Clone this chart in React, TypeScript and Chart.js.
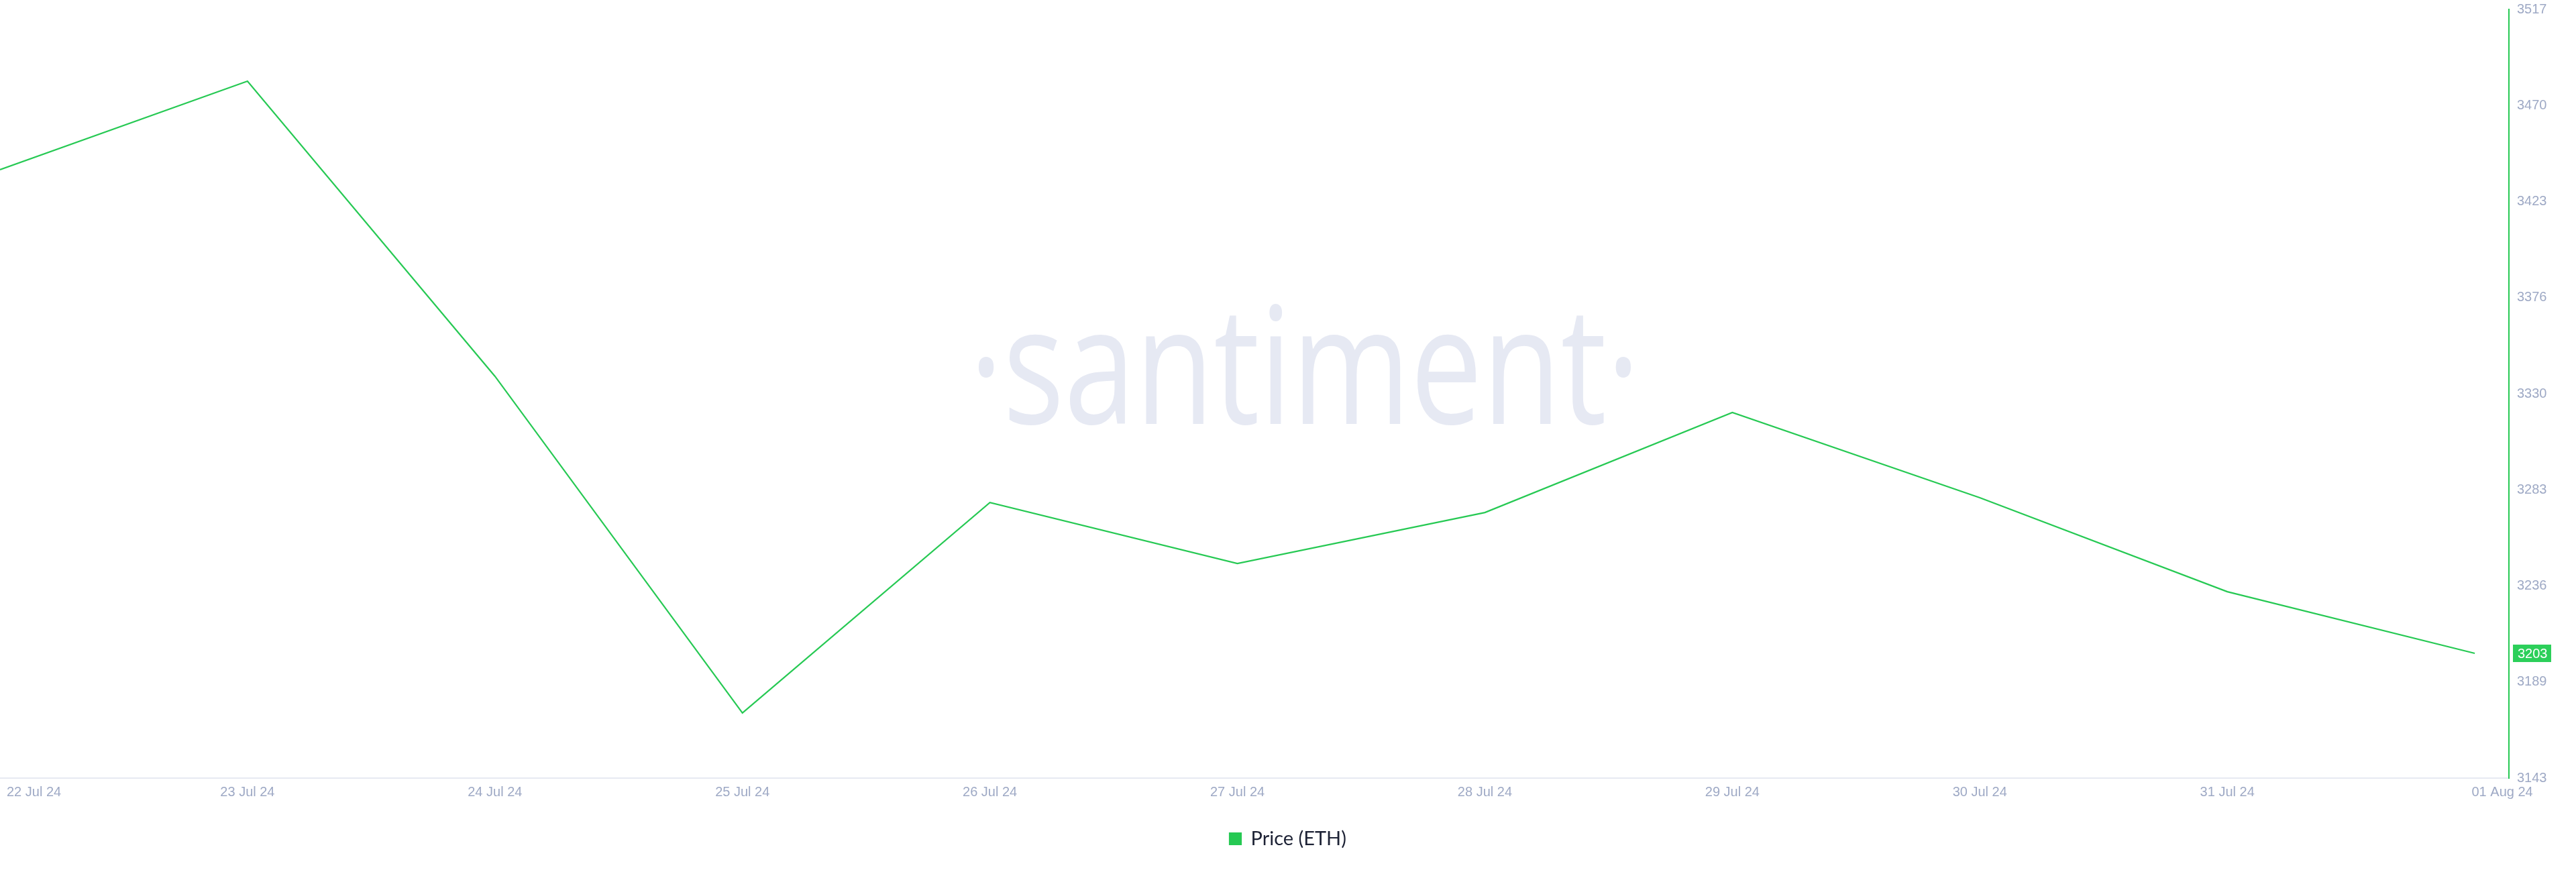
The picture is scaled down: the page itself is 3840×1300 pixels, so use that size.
import React, { useEffect, useRef } from "react";
import { Chart, registerables } from "chart.js";

Chart.register(...registerables);

const dateLabels = [
  "22 Jul 24", "23 Jul 24", "24 Jul 24", "25 Jul 24", "26 Jul 24", "27 Jul 24",
  "28 Jul 24", "29 Jul 24", "30 Jul 24", "31 Jul 24", "01 Aug 24",
];
const priceETH = [
  3438.6, 3481.7, 3338.1, 3174.3, 3276.7, 3247.0, 3271.8, 3320.5, 3279.0, 3233.3, 3203.3,
];
const seriesName = "Price (ETH)";
const yMin = 3142.6;
const yMax = 3516.6;
const yTickCount = 9;
const xMaxIndex = 10.138;

const GREEN = "#26c953";
const TICK_COLOR = "#9ea9c5";
const TICK_FONT = '"Liberation Sans", Arial, sans-serif';

const watermarkPlugin = {
  id: "watermark",
  beforeDatasetsDraw(chart: any) {
    const { ctx } = chart;
    ctx.save();
    ctx.font = '500 243px "Open Sans"';
    ctx.fillStyle = "#e6e9f3";
    ctx.textBaseline = "alphabetic";
    ctx.textAlign = "left";
    const text = "·santiment·";
    const w = ctx.measureText(text).width;
    const targetW = 1000;
    const cx = 1945;
    ctx.translate(cx - targetW / 2, 632);
    ctx.scale(targetW / w, 1);
    ctx.fillText(text, 0, 0);
    ctx.restore();
  },
};

const labelsPlugin = {
  id: "customLabels",
  afterDraw(chart: any) {
    const { ctx, chartArea } = chart;
    const xs = chart.scales.x;
    const ys = chart.scales.y;
    ctx.save();
    ctx.font = `20px ${TICK_FONT}`;
    ctx.fillStyle = TICK_COLOR;
    ctx.textBaseline = "middle";
    const y = chartArea.bottom + 21;
    dateLabels.forEach((lab, i) => {
      const px = xs.getPixelForValue(i);
      if (i === 0) {
        ctx.textAlign = "left";
        ctx.fillText(lab, px + 10, y);
      } else if (i === dateLabels.length - 1) {
        ctx.textAlign = "center";
        ctx.fillText(lab, px + 41, y);
      } else {
        ctx.textAlign = "center";
        ctx.fillText(lab, px, y);
      }
    });
    // last price badge
    const last = priceETH[priceETH.length - 1];
    const py = ys.getPixelForValue(last);
    const bx = chartArea.right + 6;
    ctx.fillStyle = "#2ccf5a";
    ctx.fillRect(bx, py - 13, 57, 26);
    ctx.fillStyle = "#ffffff";
    ctx.textAlign = "left";
    ctx.fillText(String(Math.round(last)), bx + 7, py + 1);
    ctx.restore();
  },
};

export default function App() {
  const ref = useRef<HTMLCanvasElement | null>(null);

  useEffect(() => {
    if (!ref.current) return;
    const chart = new Chart(ref.current, {
      type: "line",
      data: {
        datasets: [
          {
            label: seriesName,
            data: priceETH.map((v, i) => ({ x: i, y: v })),
            borderColor: GREEN,
            backgroundColor: GREEN,
            borderWidth: 2.2,
            pointRadius: 0,
            tension: 0,
          },
        ],
      },
      options: {
        animation: false,
        responsive: true,
        maintainAspectRatio: false,
        layout: { padding: { top: 14, bottom: 25, left: 0, right: 0 } },
        plugins: {
          legend: {
            position: "bottom",
            labels: {
              boxWidth: 17,
              boxHeight: 17,
              padding: 10,
              color: "#1d2235",
              font: { family: "Lato", size: 29 },
            },
          },
          tooltip: { enabled: false },
        },
        scales: {
          x: {
            type: "linear",
            min: 0,
            max: xMaxIndex,
            grid: { display: false },
            border: { display: true, color: "#e6e9f2", width: 2 },
            ticks: { display: false },
            afterFit: (s: any) => {
              s.height = 66;
            },
          },
          y: {
            position: "right",
            min: yMin,
            max: yMax,
            grid: { display: false, drawTicks: true, tickLength: 12 },
            border: { display: true, color: GREEN, width: 2 },
            afterBuildTicks: (s: any) => {
              const step = (yMax - yMin) / (yTickCount - 1);
              s.ticks = Array.from({ length: yTickCount }, (_, i) => ({ value: yMin + i * step }));
            },
            ticks: {
              padding: 0,
              color: TICK_COLOR,
              font: { family: TICK_FONT, size: 20 },
              callback: (v: any) => String(Math.round(Number(v))),
            },
            afterFit: (s: any) => {
              s.width = 100;
            },
          },
        },
      },
      plugins: [watermarkPlugin, labelsPlugin],
    } as any);
    return () => chart.destroy();
  }, []);

  return (
    <div style={{ position: "absolute", left: 0, top: 0, width: 3840, height: 1300, background: "#fff" }}>
      <canvas ref={ref} />
    </div>
  );
}
